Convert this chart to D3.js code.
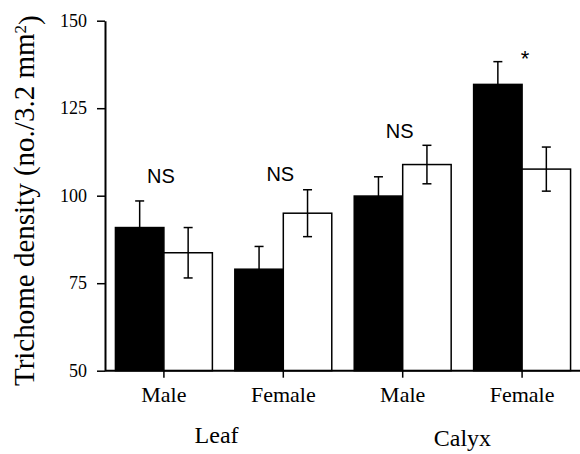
<!DOCTYPE html>
<html>
<head>
<meta charset="utf-8">
<script src="https://cdn.jsdelivr.net/npm/d3@7"></script>
<style>
  body { margin: 0; background: #fff; }
  svg { display: block; }
  .axis path, .axis line { stroke: #000; }
</style>
</head>
<body>
<div id="chart"></div>
<script>
// Categories along the x axis (sex within tissue).
var sexLabels = ["Male", "Female", "Male", "Female"];
var tissueLabels = ["Leaf", "Calyx"];

// Black bars and their (upper) error bars.
var blackMeans = [90.9, 79.0, 99.9, 131.8];
var blackErr = [7.6, 6.5, 5.5, 6.5];

// White bars and their error bars.
var whiteMeans = [83.7, 95.0, 108.9, 107.6];
var whiteErr = [7.2, 6.7, 5.5, 6.3];

// Significance marks above each pair.
var sigLabels = ["NS", "NS", "NS", "*"];
var sigLevel = [103.6, 104.3, 116.5, 137];

var yTicks = [50, 75, 100, 125, 150];

// Dimensions.
var width = 580;
var height = 454;
var margin = { top: 20.7, right: 0, bottom: 83.3, left: 105 };
var serif = "'Liberation Serif', 'Times New Roman', serif";

var svg = d3.select("#chart")
    .append("svg")
    .attr("width", width)
    .attr("height", height);

var y = d3.scaleLinear()
    .domain([50, 150])
    .range([height - margin.bottom, margin.top]);

var groups = d3.range(sexLabels.length);

var x0 = d3.scaleBand()
    .domain(groups)
    .range([margin.left + 1, width])
    .paddingInner(0.188)
    .paddingOuter(0.079);

var x1 = d3.scaleBand()
    .domain(["black", "white"])
    .range([0, x0.bandwidth()]);

var rows = groups.map(function(i) {
    return [
        { g: i, key: "black", v: blackMeans[i], e: blackErr[i] },
        { g: i, key: "white", v: whiteMeans[i], e: whiteErr[i] }
    ];
});

// Bars.
var pair = svg.selectAll("g.pair")
    .data(rows)
    .enter().append("g")
    .attr("class", "pair")
    .attr("transform", function(d, i) { return "translate(" + x0(i) + ",0)"; });

pair.selectAll("rect")
    .data(function(d) { return d; })
    .enter().append("rect")
    .attr("x", function(d) { return x1(d.key); })
    .attr("y", function(d) { return y(d.v); })
    .attr("width", x1.bandwidth())
    .attr("height", function(d) { return y(50) - y(d.v); })
    .style("fill", function(d) { return d.key == "black" ? "#000" : "#fff"; })
    .style("stroke", "#000")
    .style("stroke-width", 1.5);

// Error bars: black ones only upwards, white ones both ways.
var cap = 4.5;
pair.selectAll("g.err")
    .data(function(d) { return d; })
    .enter().append("g")
    .attr("class", "err")
    .each(function(d) {
        var g = d3.select(this);
        var cx = x1(d.key) + x1.bandwidth() / 2;
        var lo = d.key == "black" ? d.v : d.v - d.e;
        var hi = d.v + d.e;
        g.append("line")
            .attr("x1", cx).attr("x2", cx)
            .attr("y1", y(lo)).attr("y2", y(hi))
            .style("stroke", "#000")
            .style("stroke-width", 1.5);
        g.append("line")
            .attr("x1", cx - cap).attr("x2", cx + cap)
            .attr("y1", y(hi)).attr("y2", y(hi))
            .style("stroke", "#000").style("stroke-width", 1.5);
        if (d.key == "white") {
            g.append("line")
                .attr("x1", cx - cap).attr("x2", cx + cap)
                .attr("y1", y(lo)).attr("y2", y(lo))
                .style("stroke", "#000").style("stroke-width", 1.5);
        }
    });

// Significance labels.
svg.selectAll("text.sig")
    .data(sigLabels)
    .enter().append("text")
    .attr("class", "sig")
    .attr("x", function(d, i) { return x0(i) + x0.bandwidth() / 2 + (d == "*" ? 3 : -3); })
    .attr("y", function(d, i) { return y(sigLevel[i]); })
    .attr("text-anchor", "middle")
    .style("font-family", "'Liberation Sans', Arial, sans-serif")
    .style("font-size", function(d) { return d == "*" ? "22px" : "20px"; })
    .text(function(d) { return d; });

// Y axis.
var yAxis = svg.append("g")
    .attr("class", "axis")
    .attr("transform", "translate(" + margin.left + ",0)")
    .call(d3.axisLeft(y).tickValues(yTicks).tickSize(8).tickPadding(10).tickSizeOuter(0))
    .attr("font-family", serif)
    .attr("font-size", 18);
yAxis.select(".domain").style("stroke-width", 2);
yAxis.selectAll(".tick line").style("stroke-width", 1.5);
yAxis.selectAll("text").style("fill", "#000");

// X axis: baseline, ticks at the pair centres and sex labels.
var xAxis = svg.append("g")
    .attr("class", "axis")
    .attr("transform", "translate(0," + y(50) + ")");
xAxis.append("line")
    .attr("x1", margin.left).attr("x2", width)
    .attr("y1", 0).attr("y2", 0)
    .style("stroke", "#000").style("stroke-width", 2);
xAxis.selectAll("line.tick")
    .data(groups)
    .enter().append("line")
    .attr("class", "tick")
    .attr("x1", function(i) { return x0(i) + x0.bandwidth() / 2; })
    .attr("x2", function(i) { return x0(i) + x0.bandwidth() / 2; })
    .attr("y1", 0).attr("y2", 7)
    .style("stroke", "#000").style("stroke-width", 1.5);
xAxis.selectAll("text.sex")
    .data(groups)
    .enter().append("text")
    .attr("class", "sex")
    .attr("x", function(i) { return x0(i) + x0.bandwidth() / 2; })
    .attr("y", 31)
    .attr("text-anchor", "middle")
    .style("font-family", serif)
    .style("font-size", "22px")
    .text(function(i) { return sexLabels[i]; });

// Tissue labels under each pair of groups.
svg.selectAll("text.tissue")
    .data(tissueLabels)
    .enter().append("text")
    .attr("class", "tissue")
    .attr("x", function(d, i) {
        return (x0(2 * i) + x0(2 * i + 1) + x0.bandwidth()) / 2 + (i == 0 ? -7 : 0);
    })
    .attr("y", function(d, i) { return i == 0 ? 443 : 446; })
    .attr("text-anchor", "middle")
    .style("font-family", serif)
    .style("font-size", "24px")
    .text(function(d) { return d; });

// Y axis title.
var title = svg.append("text")
    .attr("transform", "translate(34," + (y(100) + 5) + ") rotate(-90)")
    .attr("text-anchor", "middle")
    .style("font-family", serif)
    .style("font-size", "29px");
title.append("tspan").text("Trichome density (no./3.2 mm");
title.append("tspan").attr("dy", "-0.45em").style("font-size", "17px").text("2");
title.append("tspan").attr("dy", "0.45em").text(")");
</script>
</body>
</html>
